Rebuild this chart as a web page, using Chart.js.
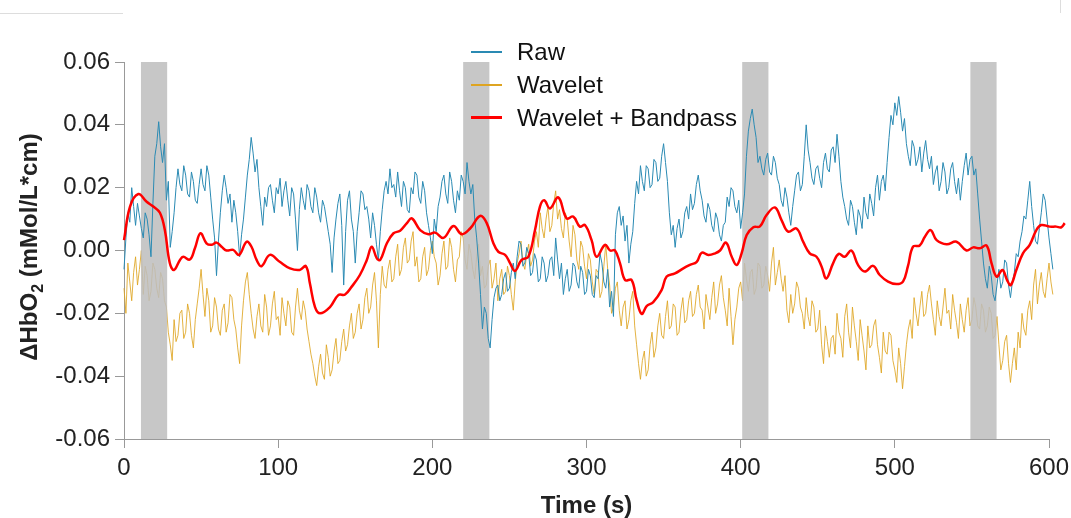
<!DOCTYPE html>
<html>
<head>
<meta charset="utf-8">
<script src="https://cdn.jsdelivr.net/npm/chart.js@4.4.1/dist/chart.umd.min.js"></script>
<style>
  html, body { margin: 0; padding: 0; background: #fff; }
  #wrap { position: relative; width: 1071px; height: 518px; overflow: hidden; }
  #legend { position: absolute; left: 471px; top: 35px; font: 24px "Liberation Sans", Arial, sans-serif; color: #111; }
  #legend .row { display: flex; align-items: center; height: 33px; white-space: nowrap; }
  #legend .swatch { width: 31px; margin-right: 15px; }
  .mark { position: absolute; background: #ddd; }
</style>
</head>
<body>
<div id="wrap">
  <canvas id="chart" width="1071" height="518"></canvas>
  <div id="legend"></div>
  <div class="mark" style="left:0;top:13px;width:123px;height:1px"></div>
  <div class="mark" style="left:1060px;top:0;width:1px;height:13px"></div>
</div>
<script>
  // sampling of the two noisy traces (seconds between samples, starting at 0 s)
  var sampleStep = 1.25;

  // one row = 25 s
  var rawValues = [
    -0.006, 0.004, 0.012, 0.009, 0.020, 0.014, 0.008, 0.015, 0.011, 0.007, 0.004, 0.012, 0.010, 0.005, -0.002, 0.015, 0.030, 0.034, 0.041, 0.033,
    0.028, 0.034, 0.016, 0.022, 0.001, 0.006, 0.012, 0.020, 0.026, 0.021, 0.019, 0.027, 0.024, 0.018, 0.017, 0.025, 0.022, 0.016, 0.015, 0.021,
    0.026, 0.021, 0.019, 0.027, 0.024, 0.017, 0.010, 0.004, -0.008, 0.003, 0.012, 0.019, 0.024, 0.020, 0.015, 0.018, 0.009, 0.016, 0.012, 0.006,
    -0.002, 0.005, 0.010, 0.017, 0.024, 0.029, 0.036, 0.031, 0.025, 0.029, 0.020, 0.014, 0.008, 0.017, 0.014, 0.020, 0.021, 0.016, 0.012, 0.020,
    0.018, 0.023, 0.014, 0.019, 0.022, 0.016, 0.011, 0.020, 0.018, 0.010, 0.000, 0.013, 0.020, 0.016, 0.013, 0.021, 0.019, 0.014, 0.012, 0.020,
    0.017, 0.012, 0.009, 0.016, 0.014, 0.010, 0.006, 0.002, -0.007, 0.004, 0.010, 0.015, 0.018, 0.008, -0.011, 0.006, 0.016, 0.019, 0.010, 0.006,
    -0.004, 0.006, 0.012, 0.019, 0.018, 0.013, 0.014, 0.010, 0.004, 0.012, 0.008, 0.002, -0.003, 0.006, 0.013, 0.019, 0.022, 0.018, 0.026, 0.020,
    0.021, 0.017, 0.025, 0.019, 0.014, 0.022, 0.020, 0.013, 0.012, 0.020, 0.018, 0.025, 0.024, 0.017, 0.015, 0.022, 0.019, 0.012, 0.008, 0.004,
    -0.001, 0.010, 0.006, 0.014, 0.017, 0.022, 0.024, 0.018, 0.015, 0.025, 0.022, 0.016, 0.012, 0.019, 0.016, 0.024, 0.022, 0.018, 0.028, 0.022,
    0.018, 0.021, 0.010, 0.004, -0.004, -0.014, -0.025, -0.018, -0.020, -0.028, -0.031, -0.022, -0.015, -0.012, -0.011, -0.016, -0.014, -0.009, -0.007, -0.013,
    -0.012, -0.007, -0.004, -0.009, -0.002, 0.003, 0.002, -0.005, -0.004, 0.001, -0.001, -0.008, -0.007, -0.001, -0.003, -0.010, -0.009, -0.002, -0.004, -0.010,
    -0.008, -0.003, -0.002, -0.008, 0.004, -0.003, -0.009, -0.004, -0.014, -0.009, -0.006, -0.013, -0.011, -0.004, -0.005, -0.010, -0.012, -0.005, -0.007, -0.014,
    -0.013, -0.006, -0.008, -0.014, -0.015, -0.008, -0.009, -0.001, -0.004, -0.010, -0.012, -0.006, -0.018, -0.013, -0.021, 0.005, 0.012, 0.014, 0.008, 0.011,
    0.003, 0.008, -0.004, 0.002, 0.006, 0.015, 0.022, 0.018, 0.027, 0.022, 0.019, 0.027, 0.026, 0.020, 0.021, 0.029, 0.028, 0.022, 0.023, 0.030,
    0.034, 0.028, 0.022, 0.012, 0.005, 0.008, 0.001, 0.007, 0.010, 0.004, 0.006, 0.012, 0.014, 0.010, 0.018, 0.013, 0.015, 0.021, 0.024, 0.019,
    0.016, 0.011, 0.009, 0.015, 0.013, 0.008, 0.006, 0.012, 0.010, 0.005, 0.003, 0.008, 0.009, 0.017, 0.014, 0.020, 0.019, 0.014, 0.012, 0.016,
    0.007, 0.012, 0.018, 0.030, 0.038, 0.042, 0.045, 0.040, 0.036, 0.028, 0.030, 0.026, 0.024, 0.029, 0.031, 0.025, 0.024, 0.030, 0.028, 0.023,
    0.021, 0.016, 0.014, 0.020, 0.017, 0.012, 0.008, 0.014, 0.019, 0.024, 0.025, 0.019, 0.021, 0.030, 0.040, 0.032, 0.028, 0.023, 0.021, 0.026,
    0.027, 0.023, 0.020, 0.028, 0.031, 0.026, 0.025, 0.032, 0.033, 0.028, 0.037, 0.030, 0.022, 0.017, 0.014, 0.010, 0.008, 0.016, 0.014, 0.009,
    0.005, 0.013, 0.011, 0.007, 0.017, 0.012, 0.010, 0.018, 0.015, 0.011, 0.020, 0.024, 0.016, 0.022, 0.024, 0.019, 0.028, 0.036, 0.043, 0.040,
    0.047, 0.043, 0.049, 0.044, 0.038, 0.042, 0.034, 0.030, 0.027, 0.035, 0.033, 0.027, 0.029, 0.033, 0.025, 0.031, 0.035, 0.029, 0.026, 0.030,
    0.021, 0.025, 0.027, 0.019, 0.022, 0.028, 0.025, 0.018, 0.020, 0.026, 0.028, 0.022, 0.018, 0.023, 0.016, 0.022, 0.027, 0.031, 0.024, 0.029,
    0.030, 0.024, 0.026, 0.018, 0.010, 0.003, -0.004, -0.009, -0.012, -0.005, -0.008, -0.014, -0.016, -0.011, -0.006, -0.012, -0.010, -0.003, -0.004, -0.011,
    -0.015, -0.010, -0.007, -0.001, -0.002, 0.003, 0.006, 0.011, 0.010, 0.016, 0.022, 0.014, 0.008, 0.003, 0.002, 0.007, 0.012, 0.018, 0.016, 0.010,
    0.004, -0.001, -0.006
  ];

  var waveletValues = [
    -0.012, -0.020, -0.004, -0.010, -0.016, -0.007, -0.002, -0.011, -0.006, 0.000, -0.014, -0.005, -0.008, -0.016, -0.013, -0.004, -0.006, -0.012, -0.015, -0.007,
    -0.009, -0.016, -0.018, -0.026, -0.030, -0.035, -0.022, -0.029, -0.027, -0.020, -0.019, -0.028, -0.026, -0.017, -0.020, -0.027, -0.031, -0.022, -0.017, -0.012,
    -0.006, -0.014, -0.021, -0.012, -0.016, -0.026, -0.024, -0.015, -0.018, -0.025, -0.027, -0.019, -0.017, -0.026, -0.023, -0.014, -0.015, -0.022, -0.025, -0.031,
    -0.036, -0.024, -0.016, -0.010, -0.007, -0.014, -0.020, -0.025, -0.028, -0.021, -0.017, -0.024, -0.026, -0.014, -0.018, -0.027, -0.024, -0.017, -0.013, -0.022,
    -0.021, -0.027, -0.015, -0.020, -0.024, -0.016, -0.018, -0.026, -0.027, -0.018, -0.012, -0.019, -0.022, -0.016, -0.019, -0.025, -0.029, -0.033, -0.036, -0.040,
    -0.043, -0.037, -0.033, -0.039, -0.041, -0.030, -0.034, -0.040, -0.038, -0.032, -0.028, -0.036, -0.035, -0.029, -0.025, -0.032, -0.030, -0.024, -0.020, -0.028,
    -0.026, -0.020, -0.017, -0.025, -0.022, -0.015, -0.012, -0.020, -0.018, -0.011, -0.007, -0.016, -0.031, -0.014, -0.005, -0.011, -0.012, -0.006, -0.003, -0.010,
    -0.009, -0.002, 0.002, -0.008, -0.006, 0.001, 0.004, -0.004, -0.003, 0.003, 0.006, -0.005, -0.002, -0.010, -0.009, -0.002, 0.001, -0.008, -0.006, 0.000,
    0.003, -0.002, -0.004, -0.011, -0.008, -0.001, 0.003, -0.006, -0.005, 0.004, 0.001, -0.006, -0.010, -0.003, -0.002, 0.006, 0.004, -0.003, -0.006, 0.002,
    -0.001, -0.006, -0.009, -0.002, 0.002, -0.008, -0.005, -0.012, -0.011, -0.005, -0.003, -0.012, -0.009, -0.004, -0.016, -0.009, -0.006, -0.014, -0.013, -0.005,
    -0.008, -0.014, -0.019, -0.010, -0.004, -0.001, 0.003, -0.004, -0.006, -0.001, 0.002, -0.005, -0.003, 0.003, 0.006, 0.001, 0.012, 0.007, 0.004, 0.010,
    0.014, 0.006, 0.008, 0.015, 0.019, 0.010, 0.013, 0.007, 0.004, 0.012, 0.010, 0.003, -0.002, 0.008, 0.005, -0.003, -0.006, 0.003, 0.001, -0.005,
    -0.009, -0.001, -0.003, -0.010, -0.014, -0.006, -0.007, -0.015, -0.013, -0.005, 0.002, -0.006, -0.011, -0.020, -0.018, -0.012, -0.010, -0.019, -0.024, -0.018,
    -0.016, -0.025, -0.022, -0.016, -0.013, -0.024, -0.030, -0.036, -0.041, -0.035, -0.032, -0.040, -0.038, -0.030, -0.026, -0.034, -0.031, -0.024, -0.020, -0.027,
    -0.028, -0.021, -0.016, -0.025, -0.024, -0.017, -0.018, -0.027, -0.026, -0.019, -0.015, -0.023, -0.022, -0.016, -0.013, -0.021, -0.020, -0.014, -0.011, -0.018,
    -0.019, -0.025, -0.014, -0.018, -0.022, -0.015, -0.010, -0.020, -0.017, -0.011, -0.008, -0.015, -0.019, -0.024, -0.012, -0.021, -0.030, -0.022, -0.018, -0.012,
    -0.010, -0.016, -0.004, -0.009, -0.013, -0.007, -0.006, -0.014, -0.012, -0.004, -0.005, -0.012, -0.011, -0.005, -0.008, -0.013, -0.004, 0.001, -0.011, -0.007,
    -0.003, -0.009, -0.013, -0.008, -0.019, -0.023, -0.014, -0.020, -0.017, -0.010, -0.012, -0.018, -0.020, -0.025, -0.015, -0.021, -0.024, -0.016, -0.018, -0.026,
    -0.025, -0.019, -0.030, -0.036, -0.024, -0.029, -0.034, -0.028, -0.027, -0.033, -0.020, -0.026, -0.028, -0.034, -0.021, -0.017, -0.026, -0.031, -0.018, -0.024,
    -0.029, -0.035, -0.022, -0.027, -0.032, -0.038, -0.024, -0.031, -0.030, -0.024, -0.022, -0.030, -0.034, -0.039, -0.026, -0.032, -0.033, -0.026, -0.027, -0.035,
    -0.038, -0.042, -0.031, -0.036, -0.044, -0.037, -0.030, -0.025, -0.022, -0.028, -0.015, -0.020, -0.024, -0.018, -0.013, -0.021, -0.020, -0.014, -0.011, -0.017,
    -0.022, -0.027, -0.016, -0.021, -0.024, -0.018, -0.012, -0.020, -0.019, -0.025, -0.014, -0.019, -0.023, -0.028, -0.017, -0.022, -0.026, -0.019, -0.015, -0.024,
    -0.022, -0.015, -0.018, -0.024, -0.025, -0.017, -0.019, -0.026, -0.024, -0.018, -0.020, -0.028, -0.027, -0.021, -0.030, -0.038, -0.035, -0.029, -0.027, -0.036,
    -0.042, -0.036, -0.031, -0.038, -0.026, -0.031, -0.020, -0.025, -0.027, -0.019, -0.016, -0.022, -0.011, -0.006, -0.017, -0.011, -0.007, -0.013, -0.015, -0.009,
    -0.004, -0.010, -0.014
  ];

  var bandpassTime = [
    0, 3.9, 9.3, 14.7, 19, 23.3, 26.5, 29.7, 32.4, 36.3, 38.4, 42.7, 46, 49.6, 53.5,
    56.7, 60, 63.3, 66.5, 70.8, 74.7, 79.5, 82.7, 86, 89.2, 94.6, 101, 107.7, 114, 118,
    120.6, 123.9, 127.2, 133.6, 139, 143.4, 147.7, 153, 157.5, 160.7, 164, 166.2, 170.5,
    174.8, 179.1, 183.5, 186.7, 192.1, 197.5, 201.8, 207.2, 213.7, 219, 224.5, 231, 235.3,
    239.6, 242.8, 247.2, 250.4, 253.6, 257.9, 262.3, 266.6, 269.8, 272.6, 276.3, 281.7,
    287.1, 291.4, 295.7, 299, 303.3, 306.5, 312, 315.3, 318.5, 321.7, 325, 329.3, 332.5,
    335.8, 339, 343.3, 348.7, 352, 357.4, 362.8, 367.1, 371.5, 374.7, 379, 383.4, 386.6,
    390.5, 394.2, 397.4, 400.6, 403.9, 408.2, 412.5, 416.8, 422.2, 426.5, 430.8, 436.2,
    440.5, 444.8, 449.2, 452.4, 455.6, 460, 463.6, 467.5, 471.8, 476.1, 480.5, 485.9,
    490.2, 495.6, 501, 505.3, 508.5, 511.8, 516.1, 519.5, 523.2, 527.1, 533.6, 540, 546.5,
    550.8, 555.1, 559.5, 562.7, 566, 569.8, 572.8, 575.2, 578.8, 583.1, 587.5, 591.8, 595,
    600.4, 604.7, 608, 610.2
  ];

  var bandpassValues = [
    0.0033, 0.0140, 0.0180, 0.0155, 0.0140, 0.0120, 0.0065, -0.0040, -0.0062, -0.0030,
    -0.0020, -0.0029, 0.0007, 0.0055, 0.0023, 0.0018, 0.0025, 0.0012, 0.0000, 0.0002,
    -0.0014, 0.0028, 0.0012, -0.0030, -0.0050, -0.0014, -0.0036, -0.0057, -0.0062, -0.0050,
    -0.0105, -0.0180, -0.0200, -0.0180, -0.0142, -0.0140, -0.0115, -0.0078, -0.0030, 0.0012,
    -0.0025, -0.0030, 0.0023, 0.0055, 0.0063, 0.0087, 0.0102, 0.0065, 0.0052, 0.0057,
    0.0040, 0.0078, 0.0052, 0.0070, 0.0110, 0.0087, 0.0023, -0.0004, -0.0014, -0.0040,
    -0.0065, -0.0030, -0.0020, 0.0065, 0.0140, 0.0160, 0.0134, 0.0169, 0.0102, 0.0108,
    0.0076, 0.0081, 0.0033, -0.0020, 0.0018, 0.0000, 0.0000, -0.0040, -0.0094, -0.0094,
    -0.0158, -0.0202, -0.0177, -0.0164, -0.0126, -0.0083, -0.0073, -0.0057, -0.0046, -0.0036,
    -0.0007, -0.0014, -0.0009, 0.0000, 0.0025, -0.0020, -0.0046, -0.0009, 0.0049, 0.0074,
    0.0077, 0.0113, 0.0137, 0.0097, 0.0060, 0.0070, 0.0028, -0.0009, -0.0020, -0.0050,
    -0.0089, -0.0040, -0.0011, -0.0020, 0.0000, -0.0046, -0.0067, -0.0049, -0.0078, -0.0099,
    -0.0107, -0.0099, -0.0050, 0.0012, 0.0016, 0.0044, 0.0065, 0.0033, 0.0020, 0.0028,
    0.0000, 0.0010, 0.0007, 0.0016, -0.0040, -0.0083, -0.0062, -0.0094, -0.0110, -0.0062,
    -0.0009, 0.0018, 0.0065, 0.0081, 0.0076, 0.0076, 0.0074, 0.0087
  ];

  // stimulation blocks (s)
  var stimStart = [11, 220, 401, 549];
  var stimEnd = [28, 237, 418, 566];

  var seriesNames = ["Raw", "Wavelet", "Wavelet + Bandpass"];
  var seriesColors = ["#2a8ab3", "#dea421", "#ff0000"];

  var FONT = '"Liberation Sans", Arial, sans-serif';

  function sampled(values) {
    return values.map(function (v, i) { return { x: i * sampleStep, y: v }; });
  }

  var stimBands = {
    id: "stimBands",
    afterDatasetDraw: function (chart, args) {
      if (args.index !== 1) return; // bands sit above the wavelet trace, below the others
      var ctx = chart.ctx, area = chart.chartArea, xs = chart.scales.x;
      ctx.save();
      ctx.fillStyle = "rgba(190,190,190,0.86)";
      stimStart.forEach(function (s, i) {
        var x0 = xs.getPixelForValue(s), x1 = xs.getPixelForValue(stimEnd[i]);
        ctx.fillRect(x0, area.top, x1 - x0, area.bottom - area.top);
      });
      ctx.restore();
    }
  };

  var axisTitles = {
    id: "axisTitles",
    afterDraw: function (chart) {
      var ctx = chart.ctx, area = chart.chartArea;
      var big = "bold 24px " + FONT, small = "bold 16px " + FONT;
      ctx.save();
      ctx.fillStyle = "#222";
      ctx.font = big;
      ctx.textAlign = "center";
      ctx.textBaseline = "alphabetic";
      ctx.fillText("Time (s)", (area.left + area.right) / 2, 513);

      var parts = [["\u0394HbO", big, 0], ["2", small, 6], [" (mMol/L*cm)", big, 0]];
      var total = 0;
      parts.forEach(function (p) { ctx.font = p[1]; p.push(ctx.measureText(p[0]).width); total += p[3]; });
      ctx.translate(37, 247);
      ctx.rotate(-Math.PI / 2);
      ctx.textAlign = "left";
      var x = -total / 2;
      parts.forEach(function (p) {
        ctx.font = p[1];
        ctx.fillText(p[0], x, p[2]);
        x += p[3];
      });
      ctx.restore();
    }
  };

  var lineStyle = { pointRadius: 0, tension: 0, clip: false };

  var chart = new Chart(document.getElementById("chart"), {
    type: "line",
    data: {
      datasets: [
        Object.assign({ label: seriesNames[0], data: sampled(rawValues), borderColor: seriesColors[0], borderWidth: 1, order: 1 }, lineStyle),
        Object.assign({ label: seriesNames[1], data: sampled(waveletValues), borderColor: "rgba(222,164,33,0.85)", borderWidth: 1, order: 2 }, lineStyle),
        Object.assign({}, lineStyle, {
          label: seriesNames[2],
          data: bandpassTime.map(function (t, i) { return { x: t, y: bandpassValues[i] }; }),
          borderColor: seriesColors[2], borderWidth: 2.5, tension: 0.4, order: 0
        })
      ]
    },
    options: {
      responsive: false,
      devicePixelRatio: 1,
      animation: false,
      events: [],
      layout: { padding: { top: 62, right: 22, bottom: 0, left: 0 } },
      plugins: { legend: { display: false }, tooltip: { enabled: false } },
      scales: {
        x: {
          type: "linear",
          afterDataLimits: function (s) { s.min = 0; s.max = 600; },
          afterFit: function (s) { s.height = 79; s.paddingLeft = 0; s.paddingRight = 0; },
          ticks: { stepSize: 100, color: "#222", font: { family: FONT, size: 24 }, padding: 6, maxRotation: 0 },
          grid: { drawOnChartArea: false, drawTicks: true, tickLength: 9, color: "#999" },
          border: { color: "#999", width: 1 }
        },
        y: {
          min: -0.06,
          max: 0.06,
          afterFit: function (s) { s.width = 124; s.paddingTop = 0; s.paddingBottom = 0; },
          ticks: {
            stepSize: 0.02, color: "#222", font: { family: FONT, size: 24 }, padding: 5,
            callback: function (v) { return Math.abs(v) < 1e-9 ? "0.00" : v.toFixed(2); }
          },
          grid: { drawOnChartArea: false, drawTicks: true, tickLength: 9, color: "#999" },
          border: { color: "#999", width: 1 }
        }
      }
    },
    plugins: [stimBands, axisTitles]
  });

  // legend, stacked vertically like the original figure
  var legend = document.getElementById("legend");
  seriesNames.forEach(function (name, i) {
    var row = document.createElement("div");
    row.className = "row";
    var sw = document.createElement("span");
    sw.className = "swatch";
    sw.style.borderTop = (i === 2 ? 3 : 2) + "px solid " + seriesColors[i];
    var txt = document.createElement("span");
    txt.textContent = name;
    row.appendChild(sw);
    row.appendChild(txt);
    legend.appendChild(row);
  });
</script>
</body>
</html>
